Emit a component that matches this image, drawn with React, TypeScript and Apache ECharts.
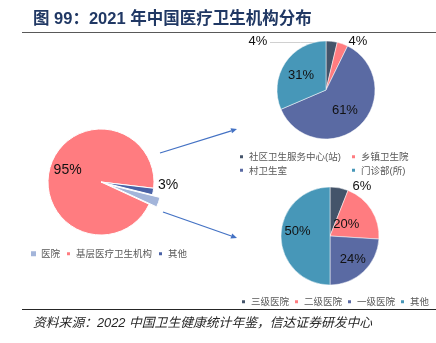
import React, { useEffect, useRef } from 'react';
import * as echarts from 'echarts';

const mainNames = ['医院', '基层医疗卫生机构', '其他'];
const mainValues = [3, 95, 2];
const primaryNames = ['社区卫生服务中心(站)', '乡镇卫生院', '村卫生室', '门诊部(所)'];
const primaryValues = [36160, 34943, 599292, 307395];
const hospitalNames = ['三级医院', '二级医院', '一级医院', '其他'];
const hospitalValues = [6, 20, 24, 50];

const titleText = '图 99：2021 年中国医疗卫生机构分布';
const sourceText = '资料来源：2022 中国卫生健康统计年鉴，信达证券研发中心';

const mainColors = ['#A3B5DA', '#FF7C80', '#4A62A6'];
const subColors = ['#44546A', '#FF7C80', '#5A6AA3', '#4797B8'];

const FONT = "'Liberation Sans', 'Noto Sans CJK SC', sans-serif";

const pct = (p: any) => Math.round(p.percent) + '%';

export default function App() {
  const ref = useRef<HTMLDivElement>(null);
  useEffect(() => {
    if (!ref.current) return;
    const chart = echarts.init(ref.current, null, { renderer: 'svg' });
    const legendBase = {
      icon: 'rect',
      itemWidth: 5,
      itemHeight: 5,
      itemGap: 5,
      selectedMode: false,
      padding: 0,
      textStyle: { fontSize: 9.5, color: '#595959', fontFamily: FONT },
    };
    const arrow = (x1: number, y1: number, x2: number, y2: number) => {
      const len = Math.hypot(x2 - x1, y2 - y1);
      const dx = (x2 - x1) / len;
      const dy = (y2 - y1) / len;
      const bx = x2 - dx * 6;
      const by = y2 - dy * 6;
      const nx = -dy * 2.6;
      const ny = dx * 2.6;
      return [
        { type: 'line', shape: { x1, y1, x2: bx, y2: by }, style: { stroke: '#4472C4', lineWidth: 1.3 } },
        {
          type: 'polygon',
          shape: { points: [[x2, y2], [bx + nx, by + ny], [bx - nx, by - ny]] },
          style: { fill: '#4472C4' },
        },
      ];
    };
    // main pie geometry
    const mainCenter = [101, 182];
    const mainStart = -14;
    const mainTotal = mainValues.reduce((a, b) => a + b, 0);
    const explodeMid = ((mainStart - (mainValues[0] / mainTotal) * 360 / 2) * Math.PI) / 180;
    const explode = 8;
    const explodedCenter = [
      mainCenter[0] + Math.cos(explodeMid) * explode,
      mainCenter[1] - Math.sin(explodeMid) * explode,
    ];
    const hidden = { color: 'rgba(0,0,0,0)', borderWidth: 0 };

    chart.setOption({
      animation: false,
      textStyle: { fontFamily: FONT },
      legend: [
        {
          ...legendBase,
          left: 31,
          top: 249,
          data: mainNames.map((n, i) => ({ name: n, itemStyle: { color: mainColors[i] } })),
        },
        {
          ...legendBase,
          orient: 'vertical',
          itemGap: 4,
          left: 238,
          top: 152,
          data: [0, 2].map((i) => ({ name: primaryNames[i], itemStyle: { color: subColors[i] } })),
        },
        {
          ...legendBase,
          orient: 'vertical',
          itemGap: 4,
          left: 350,
          top: 152,
          data: [1, 3].map((i) => ({ name: primaryNames[i], itemStyle: { color: subColors[i] } })),
        },
        {
          ...legendBase,
          itemGap: 4,
          left: 240,
          top: 297,
          data: hospitalNames.map((n, i) => ({ name: n, itemStyle: { color: subColors[i] } })),
        },
      ],
      series: [
        {
          type: 'pie',
          center: mainCenter,
          radius: 53,
          startAngle: mainStart,
          clockwise: true,
          avoidLabelOverlap: false,
          silent: true,
          emphasis: { disabled: true },
          itemStyle: { borderColor: '#fff', borderWidth: 1 },
          label: { show: true, position: 'inside', formatter: pct, fontSize: 14, color: '#111' },
          labelLine: { show: false },
          data: mainNames.map((n, i) => ({
            name: n,
            value: mainValues[i],
            itemStyle: i === 0 ? hidden : { color: mainColors[i] },
            label: i === 1 ? {} : { show: false },
          })),
          labelLayout: (p: any) => (p.dataIndex === 1 ? { dx: -5, dy: -5 } : {}),
        },
        {
          type: 'pie',
          center: explodedCenter,
          radius: 53,
          startAngle: mainStart,
          clockwise: true,
          avoidLabelOverlap: false,
          silent: true,
          emphasis: { disabled: true },
          itemStyle: { borderColor: '#fff', borderWidth: 1 },
          label: { show: true, position: 'outside', formatter: pct, fontSize: 14, color: '#111' },
          labelLine: { show: false },
          data: mainNames.map((n, i) => ({
            name: n,
            value: mainValues[i],
            itemStyle: i === 0 ? { color: mainColors[i] } : hidden,
            label: i === 0 ? {} : { show: false },
          })),
          labelLayout: (p: any) =>
            p.dataIndex === 0 ? { x: 168, y: 184, align: 'center', verticalAlign: 'middle' } : {},
        },
        {
          type: 'pie',
          center: [326, 90],
          radius: 49,
          startAngle: 90,
          clockwise: true,
          avoidLabelOverlap: false,
          silent: true,
          emphasis: { disabled: true },
          itemStyle: { borderColor: '#fff', borderWidth: 0.5 },
          label: { show: true, position: 'inside', formatter: pct, fontSize: 13, color: '#111' },
          labelLine: { show: false, lineStyle: { color: '#d0d0d0', width: 1 } },
          data: primaryNames.map((n, i) => ({
            name: n,
            value: primaryValues[i],
            itemStyle: { color: subColors[i] },
            label: i < 2 ? { position: 'outside' } : {},
            labelLine: i === 0 ? { show: true, length: 5, length2: 5 } : {},
          })),
          labelLayout: (p: any) => {
            if (p.dataIndex === 0) {
              const pts = p.labelLinePoints;
              const s = pts && pts[0] ? pts[0] : [330, 42];
              return {
                x: 258,
                y: 40,
                align: 'center',
                verticalAlign: 'middle',
                labelLinePoints: [[s[0], 42.5], [(s[0] + 270) / 2, 42.5], [270, 42.5]],
              };
            }
            if (p.dataIndex === 1) return { x: 358, y: 40, align: 'center', verticalAlign: 'middle' };
            if (p.dataIndex === 3) return { dx: -2, dy: 0 };
            return {};
          },
        },
        {
          type: 'pie',
          center: [330, 236],
          radius: 49,
          startAngle: 90,
          clockwise: true,
          avoidLabelOverlap: false,
          silent: true,
          emphasis: { disabled: true },
          itemStyle: { borderColor: '#fff', borderWidth: 0.5 },
          label: { show: true, position: 'inside', formatter: pct, fontSize: 13, color: '#111' },
          labelLine: { show: false },
          data: hospitalNames.map((n, i) => ({
            name: n,
            value: hospitalValues[i],
            itemStyle: { color: subColors[i] },
            label: i === 0 ? { position: 'outside' } : {},
          })),
          labelLayout: (p: any) => {
            if (p.dataIndex === 0) return { x: 362, y: 185, align: 'center', verticalAlign: 'middle' };
            if (p.dataIndex === 1) return { dx: -7, dy: 2 };
            if (p.dataIndex === 2) return { dx: 4, dy: 2 };
            return { dx: -5, dy: -6 };
          },
        },
      ],
      graphic: [
        {
          type: 'text',
          x: 33,
          y: 17.5,
          style: {
            text: titleText,
            fontSize: 16.5,
            fontWeight: 'bold',
            fill: '#203864',
            fontFamily: FONT,
            verticalAlign: 'middle',
            align: 'left',
          },
        },
        { type: 'line', shape: { x1: 22, y1: 32.5, x2: 436, y2: 32.5 }, style: { stroke: '#595959', lineWidth: 1 } },
        { type: 'line', shape: { x1: 22, y1: 309.5, x2: 436, y2: 309.5 }, style: { stroke: '#262626', lineWidth: 1 } },
        {
          type: 'text',
          x: 33,
          y: 322.5,
          style: {
            text: sourceText,
            fontSize: 12.8,
            fontStyle: 'italic',
            fill: '#262626',
            fontFamily: FONT,
            verticalAlign: 'middle',
            align: 'left',
          },
        },
        ...arrow(160, 153, 237, 129),
        ...arrow(163, 212, 237, 238),
      ],
    });
    return () => chart.dispose();
  }, []);
  return <div ref={ref} style={{ position: 'fixed', left: 0, top: 0, width: 436, height: 343 }} />;
}
